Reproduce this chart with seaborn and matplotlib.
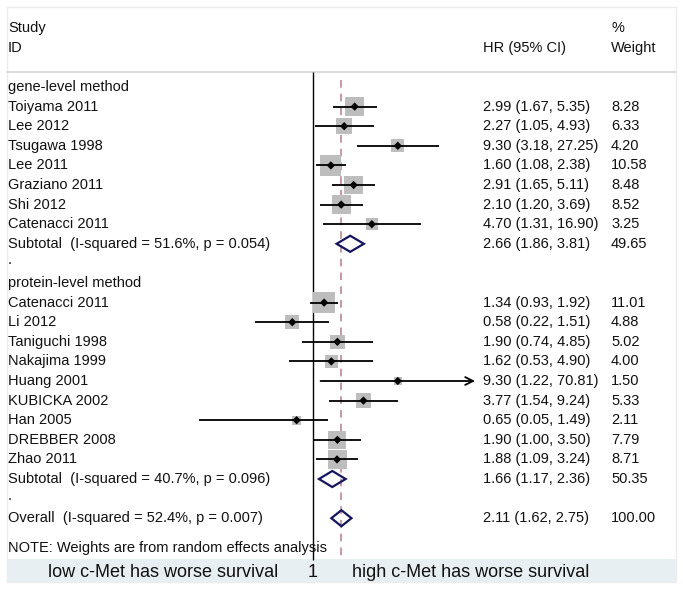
import numpy as np
import pandas as pd
import matplotlib.pyplot as plt
import matplotlib.patches as mpatches
from matplotlib.lines import Line2D
import seaborn as sns

# Study data
gene_study = ["Toiyama 2011", "Lee 2012", "Tsugawa 1998", "Lee 2011",
              "Graziano 2011", "Shi 2012", "Catenacci 2011"]
gene_hr = [2.99, 2.27, 9.30, 1.60, 2.91, 2.10, 4.70]
gene_lo = [1.67, 1.05, 3.18, 1.08, 1.65, 1.20, 1.31]
gene_hi = [5.35, 4.93, 27.25, 2.38, 5.11, 3.69, 16.90]
gene_w = [8.28, 6.33, 4.20, 10.58, 8.48, 8.52, 3.25]

prot_study = ["Catenacci 2011", "Li 2012", "Taniguchi 1998", "Nakajima 1999",
              "Huang 2001", "KUBICKA 2002", "Han 2005", "DREBBER 2008", "Zhao 2011"]
prot_hr = [1.34, 0.58, 1.90, 1.62, 9.30, 3.77, 0.65, 1.90, 1.88]
prot_lo = [0.93, 0.22, 0.74, 0.53, 1.22, 1.54, 0.05, 1.00, 1.09]
prot_hi = [1.92, 1.51, 4.85, 4.90, 70.81, 9.24, 1.49, 3.50, 3.24]
prot_w = [11.01, 4.88, 5.02, 4.00, 1.50, 5.33, 2.11, 7.79, 8.71]

# pooled estimates: hr, lo, hi, weight, I-squared, p
sub_gene = [2.66, 1.86, 3.81, 49.65, "51.6%", "0.054"]
sub_prot = [1.66, 1.17, 2.36, 50.35, "40.7%", "0.096"]
overall = [2.11, 1.62, 2.75, 100.00, "52.4%", "0.007"]

group_names = ["gene-level method", "protein-level method"]
left_label = "low c-Met has worse survival"
right_label = "high c-Met has worse survival"
note = "NOTE: Weights are from random effects analysis"
x_limit = 70.81

# row layout
gene_rows = np.arange(1, 8)
prot_rows = np.arange(11, 20)
df = pd.DataFrame({
    "study": gene_study + prot_study,
    "hr": gene_hr + prot_hr,
    "lo": gene_lo + prot_lo,
    "hi": gene_hi + prot_hi,
    "w": gene_w + prot_w,
    "row": np.concatenate([gene_rows, prot_rows]),
})
pooled = pd.DataFrame(
    [sub_gene + ["Subtotal", 8], sub_prot + ["Subtotal", 20], overall + ["Overall", 22]],
    columns=["hr", "lo", "hi", "w", "i2", "p", "label", "row"])

W, H = 683, 589
ROW_PX, ROW0_PX = 19.6, 87
def row_of(py):
    return (py - ROW0_PX) / ROW_PX

sns.set_theme(style="white")
plt.rcParams["font.family"] = ["Liberation Sans", "DejaVu Sans"]
txt = "#111111"
fs = 10.5

fig = plt.figure(figsize=(W / 100, H / 100), dpi=100)
fig.patch.set_facecolor("white")
ax_l, ax_r = 151, 475
ax = fig.add_axes([ax_l / W, 0, (ax_r - ax_l) / W, 1])
ax.set_xscale("log")
ax.set_xlim(1 / x_limit, x_limit)
ax.set_ylim(row_of(H), row_of(0))
ax.axis("off")

def fx(px):
    return (px - ax_l) / (ax_r - ax_l)

tr = ax.get_yaxis_transform()

# frame, header rule and bottom band (behind the axes)
fig.patches.append(mpatches.Rectangle((7 / W, 1 - 582 / H), 669 / W, 575 / H,
                                      transform=fig.transFigure, fill=False,
                                      edgecolor="#ececec", lw=1, zorder=-2))
fig.patches.append(mpatches.Rectangle((7 / W, 1 - 582 / H), 669 / W, 23 / H,
                                      transform=fig.transFigure, facecolor="#e8eff2",
                                      edgecolor="none", zorder=-1))
fig.lines.append(Line2D([7 / W, 676 / W], [1 - 72 / H, 1 - 72 / H],
                        transform=fig.transFigure, color="#d6d6d6", lw=1.2, zorder=-1))

# null line and overall line
ax.vlines(1, row_of(72), row_of(560), color="black", lw=1)
ax.vlines(overall[0], row_of(80), row_of(560), color="#b57c8e", lw=1.1,
          linestyles=(0, (5, 4)))

# weight squares
sns.scatterplot(data=df, x="hr", y="row", size="w", sizes=(0, 21.5 * 12),
                size_norm=(0, 12), marker="s", color="#bdbdbd", edgecolor="none",
                legend=False, ax=ax, zorder=2)

# confidence intervals
for _, r in df.iterrows():
    if r["hi"] >= x_limit:
        ax.annotate("", xy=(r["hi"], r["row"]), xytext=(r["lo"], r["row"]),
                    arrowprops=dict(arrowstyle="->", lw=1.3, color="black",
                                    mutation_scale=14, shrinkA=0, shrinkB=0),
                    zorder=3)
    else:
        ax.hlines(r["row"], r["lo"], r["hi"], color="black", lw=1.3, zorder=3)

sns.scatterplot(data=df, x="hr", y="row", marker="D", s=18, color="black",
                edgecolor="none", legend=False, ax=ax, zorder=4)

# pooled diamonds
for _, r in pooled.iterrows():
    y = r["row"]
    pts = [(r["lo"], y), (r["hr"], y - 0.41), (r["hi"], y), (r["hr"], y + 0.41)]
    ax.add_patch(mpatches.Polygon(pts, closed=True, fill=False,
                                  edgecolor="#15155e", lw=1.6, zorder=5))

# text columns
x_lab, x_hr, x_w = fx(8), fx(483), fx(611)
ax.text(x_lab, row_of(28), "Study", transform=tr, va="center", fontsize=fs, color=txt)
ax.text(x_lab, row_of(48), "ID", transform=tr, va="center", fontsize=fs, color=txt)
ax.text(x_hr, row_of(48), "HR (95% CI)", transform=tr, va="center", fontsize=fs, color=txt)
ax.text(x_w, row_of(28), "%", transform=tr, va="center", fontsize=fs, color=txt)
ax.text(x_w, row_of(48), "Weight", transform=tr, va="center", fontsize=fs, color=txt)

ax.text(x_lab, 0, group_names[0], transform=tr, va="center", fontsize=fs, color=txt)
ax.text(x_lab, 10, group_names[1], transform=tr, va="center", fontsize=fs, color=txt)
for yr in [9, 21]:
    ax.text(x_lab, yr - 0.15, ".", transform=tr, va="center", fontsize=fs, color=txt)

for _, r in df.iterrows():
    ax.text(x_lab, r["row"], r["study"], transform=tr, va="center", fontsize=fs, color=txt)
    ax.text(x_hr, r["row"], f"{r['hr']:.2f} ({r['lo']:.2f}, {r['hi']:.2f})",
            transform=tr, va="center", fontsize=fs, color=txt)
    ax.text(x_w, r["row"], f"{r['w']:.2f}", transform=tr, va="center",
            fontsize=fs, color=txt)

for _, r in pooled.iterrows():
    ax.text(x_lab, r["row"], f"{r['label']}  (I-squared = {r['i2']}, p = {r['p']})",
            transform=tr, va="center", fontsize=fs, color=txt)
    ax.text(x_hr, r["row"], f"{r['hr']:.2f} ({r['lo']:.2f}, {r['hi']:.2f})",
            transform=tr, va="center", fontsize=fs, color=txt)
    ax.text(x_w, r["row"], f"{r['w']:.2f}", transform=tr, va="center",
            fontsize=fs, color=txt)

ax.text(x_lab, row_of(548), note, transform=tr, va="center", fontsize=fs, color=txt)

# bottom band labels
yb = row_of(573)
ax.text(fx(48), yb, left_label, transform=tr, va="center", fontsize=13, color=txt)
ax.text(1, yb, "1", va="center", ha="center", fontsize=13, color=txt)
ax.text(fx(352), yb, right_label, transform=tr, va="center", fontsize=13, color=txt)

fig.savefig("out.png", dpi=100)
